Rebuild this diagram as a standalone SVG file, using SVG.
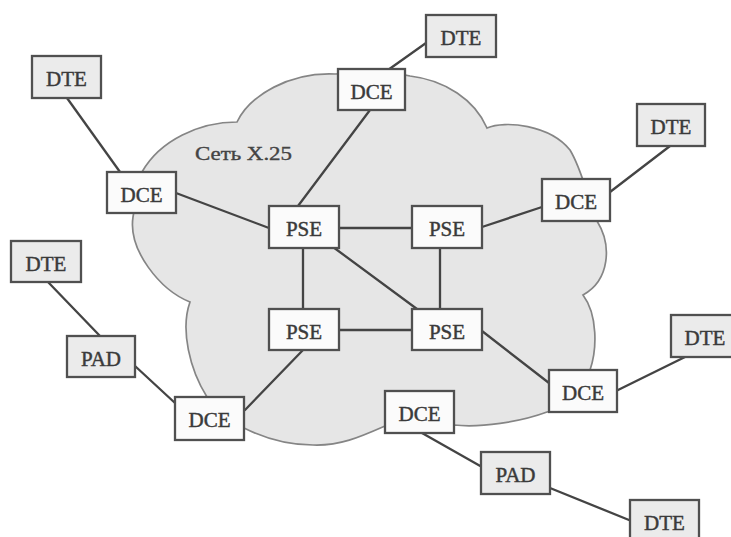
<svg xmlns="http://www.w3.org/2000/svg" width="731" height="537" viewBox="0 0 731 537">
  <style>
    .cloud { fill: #e6e6e6; stroke: #858585; stroke-width: 1.7; }
    .box { stroke: #505050; stroke-width: 2.3; }
    .white { fill: #fbfbfb; }
    .grey { fill: #ebebeb; }
    .lbl { font-family: "Liberation Serif", "Times New Roman", serif; font-size: 21px; fill: #3a3a3a; stroke: #3a3a3a; stroke-width: 0.45; text-anchor: middle; }
    .cap { font-family: "Liberation Serif", "Times New Roman", serif; font-size: 18.5px; fill: #444; stroke: #444; stroke-width: 0.35; }
    .links line { stroke: #444; stroke-width: 2.3; stroke-linecap: round; }
  </style>
  <rect width="731" height="537" fill="#ffffff"/>

  <!-- X.25 network cloud -->
  <g id="cloud">
    <path class="cloud" d="M142,172 C160,140 200,122 237,122
      C250,95 290,72 335,74 C370,72 395,72 410,76
      C445,80 475,100 487,128
      C505,120 550,125 570,150 C582,170 585,190 597,221
      C612,245 610,280 583,295
      C598,315 597,350 590,370 C580,395 565,408 547,412
      C520,422 480,428 454,425 C430,425 400,425 385,426
      C360,437 340,446 313,445 C285,445 262,437 244,428
      C225,420 212,405 207,397
      C190,370 180,330 190,302
      C160,290 128,250 133,217 C136,200 138,185 142,172 Z"/>
    <text class="cap" x="195" y="160" textLength="97" lengthAdjust="spacingAndGlyphs">Сеть X.25</text>
  </g>

  <!-- connectors -->
  <g id="links" class="links">
    <line x1="67" y1="98" x2="120" y2="172"/>
    <line x1="176" y1="193" x2="269" y2="228"/>
    <line x1="370" y1="110" x2="298" y2="206"/>
    <line x1="388" y1="70" x2="426" y2="43"/>
    <line x1="339" y1="228" x2="412" y2="228"/>
    <line x1="482" y1="227" x2="542" y2="207"/>
    <line x1="610" y1="192" x2="670" y2="146"/>
    <line x1="303" y1="248" x2="303" y2="309"/>
    <line x1="333" y1="247" x2="417" y2="309"/>
    <line x1="440" y1="248" x2="440" y2="309"/>
    <line x1="339" y1="330" x2="412" y2="330"/>
    <line x1="303" y1="350" x2="245" y2="410"/>
    <line x1="175" y1="403" x2="135" y2="366"/>
    <line x1="100" y1="336" x2="48" y2="282"/>
    <line x1="482" y1="331" x2="549" y2="383"/>
    <line x1="618" y1="390" x2="685" y2="357"/>
    <line x1="422" y1="433" x2="482" y2="467"/>
    <line x1="550" y1="488" x2="629" y2="520"/>
  </g>

  <!-- nodes -->
  <g id="dte-top-left"><rect class="box grey" x="32" y="56" width="69" height="42"/><text class="lbl" x="66.5" y="86">DTE</text></g>
  <g id="dce-left"><rect class="box white" x="107" y="172" width="69" height="41"/><text class="lbl" x="141.5" y="202">DCE</text></g>
  <g id="dte-left"><rect class="box grey" x="11" y="241" width="70" height="41"/><text class="lbl" x="46" y="271">DTE</text></g>
  <g id="pad-left"><rect class="box grey" x="67" y="336" width="68" height="41"/><text class="lbl" x="101" y="366">PAD</text></g>
  <g id="dce-bottom-left"><rect class="box white" x="175" y="397" width="69" height="43"/><text class="lbl" x="209.5" y="427">DCE</text></g>
  <g id="dce-top"><rect class="box white" x="338" y="69" width="67" height="41"/><text class="lbl" x="371.5" y="99">DCE</text></g>
  <g id="dte-top"><rect class="box grey" x="426" y="15" width="70" height="42"/><text class="lbl" x="461" y="45">DTE</text></g>
  <g id="pse-1"><rect class="box white" x="269" y="206" width="70" height="42"/><text class="lbl" x="304" y="236">PSE</text></g>
  <g id="pse-2"><rect class="box white" x="412" y="206" width="70" height="42"/><text class="lbl" x="447" y="236">PSE</text></g>
  <g id="pse-3"><rect class="box white" x="269" y="309" width="70" height="41"/><text class="lbl" x="304" y="338.5">PSE</text></g>
  <g id="pse-4"><rect class="box white" x="412" y="309" width="70" height="41"/><text class="lbl" x="447" y="338.5">PSE</text></g>
  <g id="dce-right"><rect class="box white" x="542" y="179" width="68" height="42"/><text class="lbl" x="576" y="209">DCE</text></g>
  <g id="dte-right"><rect class="box grey" x="637" y="104" width="68" height="42"/><text class="lbl" x="671" y="134">DTE</text></g>
  <g id="dce-right-low"><rect class="box white" x="549" y="370" width="68" height="42"/><text class="lbl" x="583" y="400">DCE</text></g>
  <g id="dte-right-edge"><rect class="box grey" x="671" y="315" width="69" height="42"/><text class="lbl" x="705" y="345">DTE</text></g>
  <g id="dce-bottom"><rect class="box white" x="385" y="391" width="69" height="42"/><text class="lbl" x="419.5" y="421">DCE</text></g>
  <g id="pad-bottom"><rect class="box grey" x="481" y="452" width="69" height="42"/><text class="lbl" x="515.5" y="482">PAD</text></g>
  <g id="dte-bottom"><rect class="box grey" x="630" y="500" width="69" height="42"/><text class="lbl" x="664.5" y="530">DTE</text></g>
</svg>
